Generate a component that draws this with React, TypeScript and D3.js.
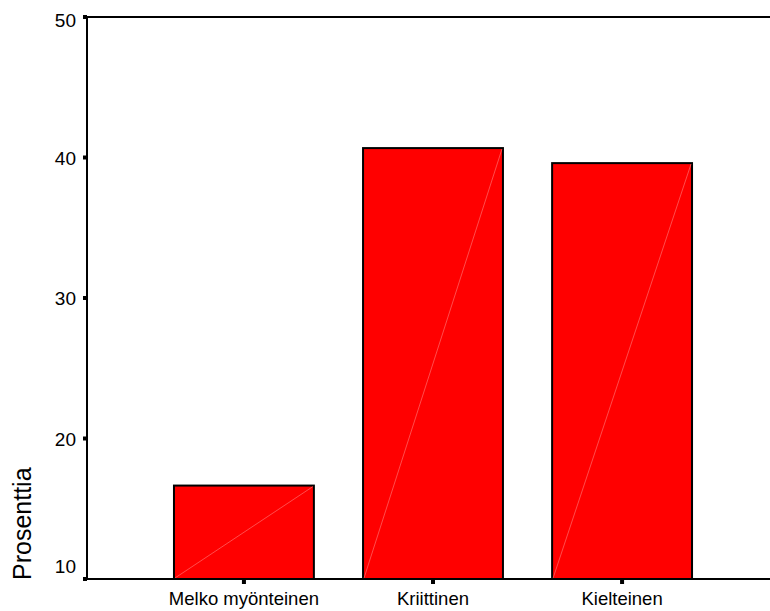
import React from "react";
import * as d3 from "d3";

const categories = ["Melko myönteinen", "Kriittinen", "Kielteinen"];
const values = [16.65, 40.67, 39.6];
const yTicks = [10, 20, 30, 40, 50];
const yLabel = "Prosenttia";

const W = 770;
const H = 611;
const left = 87;
const top = 17;
const bottom = 579;
const FONT = "'Liberation Sans', Arial, sans-serif";

export default function App() {
  const y = d3.scaleLinear().domain([10, 50]).range([bottom, top]);
  const x = d3
    .scaleBand<string>()
    .domain(categories)
    .range([left, 779])
    .paddingInner(0.26)
    .paddingOuter(0.46);
  const bw = x.bandwidth();
  const labelDy = (t: number, i: number) =>
    i === 0 ? -6 : i === yTicks.length - 1 ? 10 : 7;

  return (
    <svg
      width={W}
      height={H}
      style={{ position: "absolute", left: 0, top: 0, background: "#fff" }}
      fontFamily={FONT}
    >
      {categories.map((c, i) => {
        const x0 = x(c)!;
        const yt = y(values[i]);
        return (
          <g key={c}>
            <rect x={x0} y={yt} width={bw} height={bottom - yt} fill="#ff0000" stroke="#000" strokeWidth={2} />
            <line x1={x0 + 1} y1={bottom - 1} x2={x0 + bw - 1} y2={yt + 1} stroke="#ff8080" strokeWidth={0.6} />
          </g>
        );
      })}
      {/* frame */}
      <line x1={left} y1={top} x2={W} y2={top} stroke="#000" strokeWidth={2} />
      <line x1={left} y1={top} x2={left} y2={bottom} stroke="#000" strokeWidth={2} />
      <line x1={left} y1={bottom} x2={W} y2={bottom} stroke="#000" strokeWidth={2} />
      {yTicks.map((t, i) => (
        <g key={t}>
          <rect x={left - 4} y={y(t) - 2} width={4} height={4} fill="#000" />
          <text x={76} y={y(t)} dy={labelDy(t, i)} textAnchor="end" fontSize={19} fill="#000">
            {t}
          </text>
        </g>
      ))}
      {categories.map((c) => {
        const cx = x(c)! + bw / 2;
        return (
          <g key={"t" + c}>
            <rect x={cx - 2} y={bottom + 1} width={4} height={4} fill="#000" />
            <text x={cx} y={bottom + 26} textAnchor="middle" fontSize={18.5} fill="#000">
              {c}
            </text>
          </g>
        );
      })}
      <text
        transform={`translate(31, 580) rotate(-90)`}
        textAnchor="start"
        fontSize={25}
        fill="#000"
      >
        {yLabel}
      </text>
    </svg>
  );
}
